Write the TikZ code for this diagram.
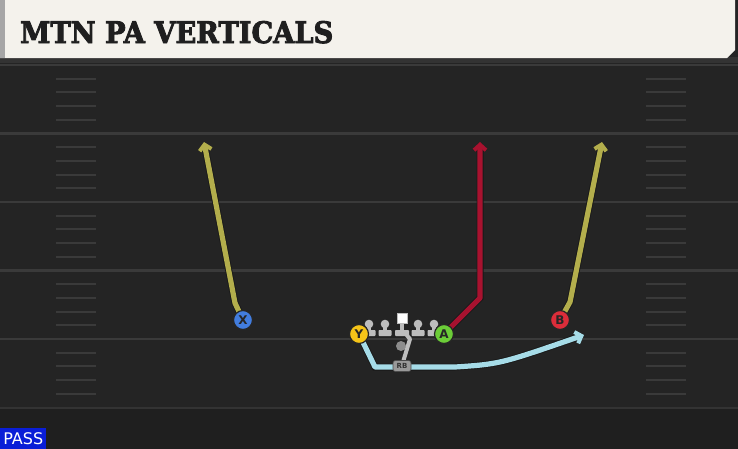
\documentclass[tikz,border=0pt]{standalone}
\usepackage{fontspec}
\newfontfamily\titlefont{DejaVu Serif}[BoldFont={* Bold},BoldFeatures={FakeBold=3}]
\newfontfamily\playerfont{DejaVu Sans}
\usetikzlibrary{arrows.meta,backgrounds}
\definecolor{field}{HTML}{242424}
\definecolor{yardline}{HTML}{3A3A3A}
\definecolor{header}{HTML}{F4F2EC}
\definecolor{olive}{HTML}{B3AE4C}
\definecolor{crimson}{HTML}{A8122F}
\definecolor{skyblue}{HTML}{A6DCE8}
\definecolor{lineman}{HTML}{BDBDBD}
\definecolor{passblue}{HTML}{0A1ED7}

\begin{document}
\begin{tikzpicture}[x=1pt,y=-1pt,
        player/.style={circle,draw=black!85,line width=1.2pt,minimum size=19pt,inner sep=0pt,
          font=\playerfont\bfseries\fontsize{12}{12}\selectfont,text=black!85},
        route/.style={line width=5.2pt,line cap=round,line join=round,
          preaction={draw=black!90,line width=7pt}},
        >={Straight Barb[length=5.5pt,width=12pt,line width=4pt]}]
       \useasboundingbox (0,0) rectangle (738,448);
       \begin{scope}[on background layer]
       \fill[field](-1,-1)rectangle(739,449);
       \fill[black!88](-1,408)rectangle(739,449);
       % yard lines and hash marks
       \foreach \y in {65,133.5,202,270.5,339}{
         \draw[yardline,line width=2.4pt](0,\y)--(738,\y);
         \foreach \k in {1,...,4}{
           \draw[yardline,line width=2pt](56,\y+13.7*\k)--(96,\y+13.7*\k);
           \draw[yardline,line width=2pt](646,\y+13.7*\k)--(686,\y+13.7*\k);}}
       \draw[black!80,line width=2pt](0,407.5)--(738,407.5);
       \end{scope}
       % header
       \fill[black!80](0,57)rectangle(738,63);
       \fill[header](0,0)--(735,0)--(735,50)--(727,58)--(0,58)--cycle;
       \fill[black!35](0,0)rectangle(5,58);
       \node[anchor=base west,inner sep=0pt,text=black!88](title)at(20,43)
         {\resizebox{313pt}{22pt}{\titlefont\bfseries MTN PA VERTICALS}};
       \node[fill=passblue,text=white,anchor=north west,minimum width=46pt,minimum height=21pt,
         inner sep=0pt,font=\playerfont\fontsize{16}{16}\selectfont](pass)at(0,428){PASS};
       % line
       \foreach \x in {369,385,418,434}{
         \fill[lineman](\x-2,324)rectangle(\x+2,333);
         \fill[lineman,rounded corners=0.8pt](\x-6.5,330)rectangle(\x+6.5,336);
         \fill[lineman](\x,324)circle(4.3);}
       \fill[lineman](400,322)rectangle(404,333);
       \fill[lineman,rounded corners=0.8pt](395,330)rectangle(409,336);
       \node[fill=white,draw=lineman,line width=0.8pt,minimum size=10pt,inner sep=0pt](C)at(402,318){};
       \node[circle,fill=black!45,minimum size=10pt,inner sep=0pt](QB)at(401,346){};
       \draw[lineman,line width=4pt,line join=round](405,333)--(410,339)--(403,362);
       \node[fill=black!40,draw=black!70,line width=0.6pt,rounded corners=2.5pt,minimum width=18pt,
         minimum height=11pt,inner sep=0pt,font=\playerfont\bfseries\fontsize{7}{7}\selectfont,
         text=black!80](RB)at(402,366){RB};
       % skill players
       \node[player,fill={rgb,255:red,66;green,125;blue,222}](X)at(243,320){X};
       \node[player,fill={rgb,255:red,245;green,196;blue,24}](Y)at(359,334){Y};
       \node[player,fill={rgb,255:red,108;green,205;blue,56}](A)at(444,334){A};
       \node[player,fill={rgb,255:red,220;green,45;blue,58}](B)at(560,320){B};
       % routes
       \coordinate(xbreak)at(235,303);
       \coordinate(xend)at(204,142);
       \coordinate(abreak)at(480,298);
       \coordinate(aend)at(480,142);
       \coordinate(bbreak)at(570,302);
       \coordinate(bend)at(602,142);
       \coordinate(ydip)at(375,367);
       \coordinate(yflat)at(455,367);
       \coordinate(yend)at(584,335);
       \begin{scope}[on background layer]
       \draw[route,olive,->](X.center)--(xbreak)--(xend);
       \draw[route,olive,->](B.center)--(bbreak)--(bend);
       \draw[route,crimson,->](A.center)--(abreak)--(aend);
       \draw[route,skyblue,->](Y.center)--(ydip)--(yflat)..controls(500,364)..(yend);
       \end{scope}
    \end{tikzpicture}
\end{document}
